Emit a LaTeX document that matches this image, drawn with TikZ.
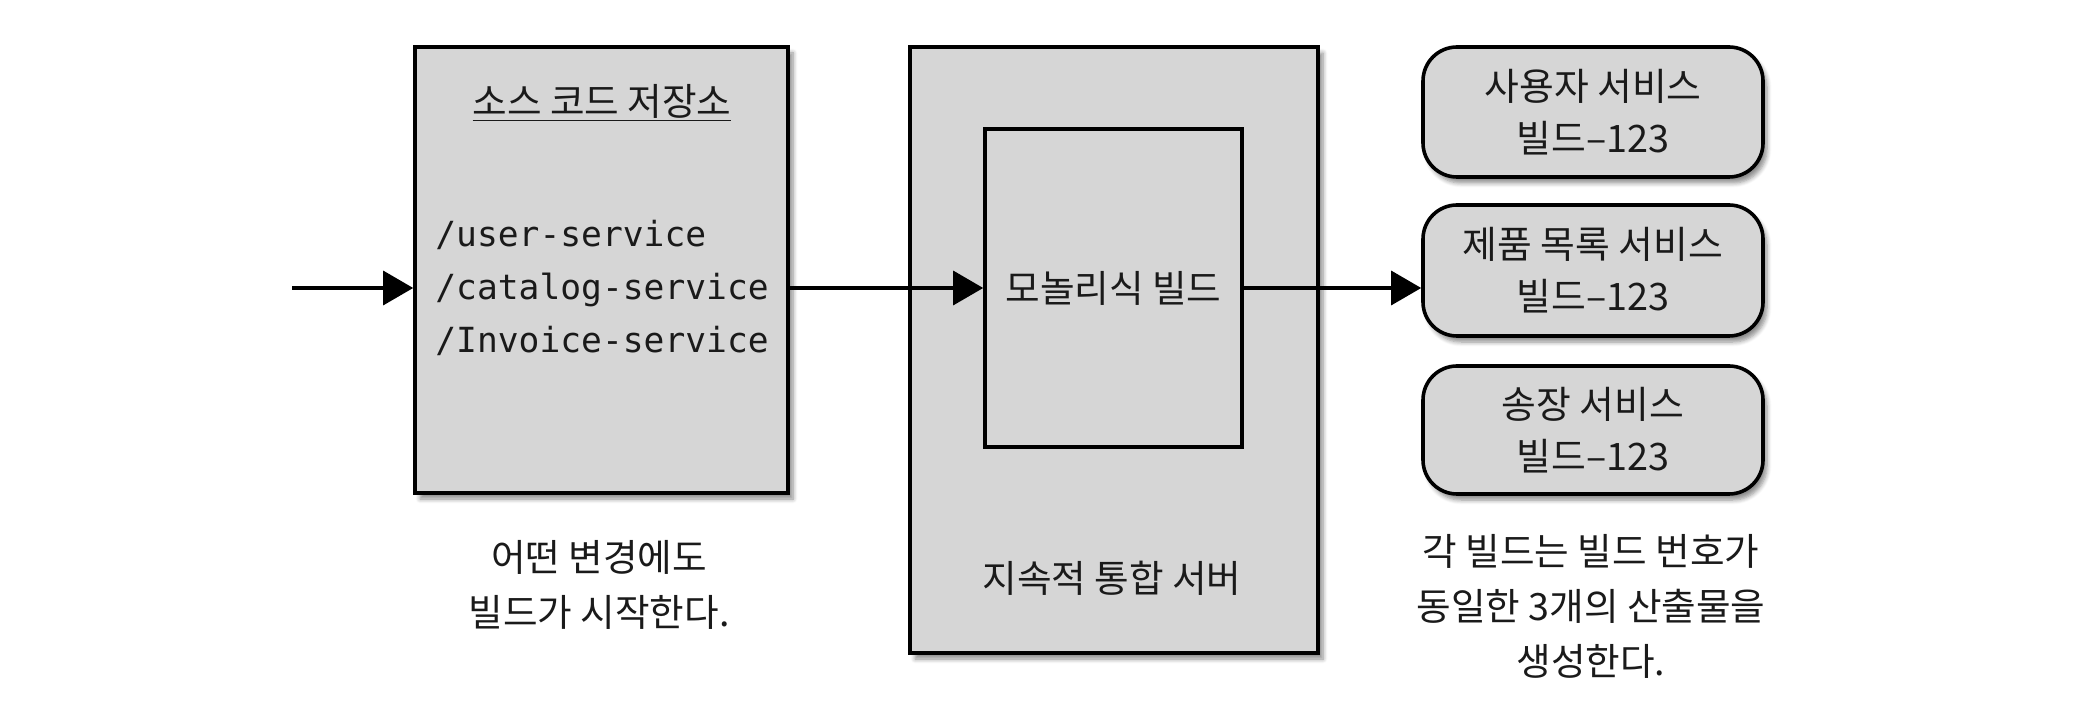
\documentclass[tikz,border=0pt]{standalone}
\usepackage{fontspec}
\setmainfont{Noto Sans CJK KR}
\newfontfamily\codefont{DejaVu Sans Mono}
\usetikzlibrary{arrows.meta,shadows.blur}
\definecolor{boxfill}{HTML}{D6D6D6}
\definecolor{ink}{HTML}{1A1A1A}
\tikzset{
  panel/.style={draw=black, line width=1.8pt, fill=boxfill,
    blur shadow={shadow xshift=2.5pt, shadow yshift=-3pt, shadow blur steps=6, shadow opacity=45}},
  plainbox/.style={draw=black, line width=1.8pt, fill=boxfill},
  artbox/.style={draw=black, line width=1.8pt, fill=boxfill, rounded corners=17pt,
    blur shadow={shadow xshift=2pt, shadow yshift=-3pt, shadow blur steps=6, shadow opacity=45},
    align=center, text=ink, font=\fontsize{18.9}{26}\selectfont},
  flow/.style={line width=1.6pt, -{Triangle[length=15pt,width=17pt]}},
  lbl/.style={text=ink, font=\fontsize{18.8}{27.5}\selectfont, align=center, inner sep=0pt},
}
\begin{document}
\begin{tikzpicture}[x=0.5pt,y=-0.5pt]
\useasboundingbox (0,0) rectangle (2073,726);
% source repository
\node[panel, minimum width=186.5pt, minimum height=223pt, inner sep=0pt] (src) at (601.5,270) {};
\node[lbl] (srctitle) at (602,103) {\underline{소스 코드 저장소}};
\node[lbl, anchor=west, align=left, font=\codefont\fontsize{17.3}{26.5}\selectfont] (code) at (435,288)
  {/user-service\\/catalog-service\\/Invoice-service};
\node[lbl] (srccap) at (599,585) {어떤 변경에도\\빌드가 시작한다.};
% CI server
\node[panel, minimum width=204pt, minimum height=303pt, inner sep=0pt] (ci) at (1114,350) {};
\node[plainbox, minimum width=128.5pt, minimum height=159pt, inner sep=0pt, text=ink,
  font=\fontsize{18.8}{26}\selectfont] (inner) at (1113.5,288) {모놀리식 빌드};
\node[lbl] (citext) at (1112,578) {지속적 통합 서버};
% artifacts
\node[artbox, minimum width=170pt, minimum height=65pt, inner sep=0pt] (art1) at (1593,112) {사용자 서비스\\빌드–123};
\node[artbox, minimum width=170pt, minimum height=65.5pt, inner sep=0pt] (art2) at (1593,270.5) {제품 목록 서비스\\빌드–123};
\node[artbox, minimum width=170pt, minimum height=64pt, inner sep=0pt] (art3) at (1593,430) {송장 서비스\\빌드–123};
\node[lbl] (artcap) at (1591,606) {각 빌드는 빌드 번호가\\동일한 3개의 산출물을\\생성한다.};
% connectors
\coordinate (start) at (292,288);
\draw[flow] (start) -- (start -| src.west);
\draw[flow] (inner.west -| src.east) -- (inner.west);
\draw[flow] (inner.east) -- (inner.east -| art2.west);
\end{tikzpicture}
\end{document}
